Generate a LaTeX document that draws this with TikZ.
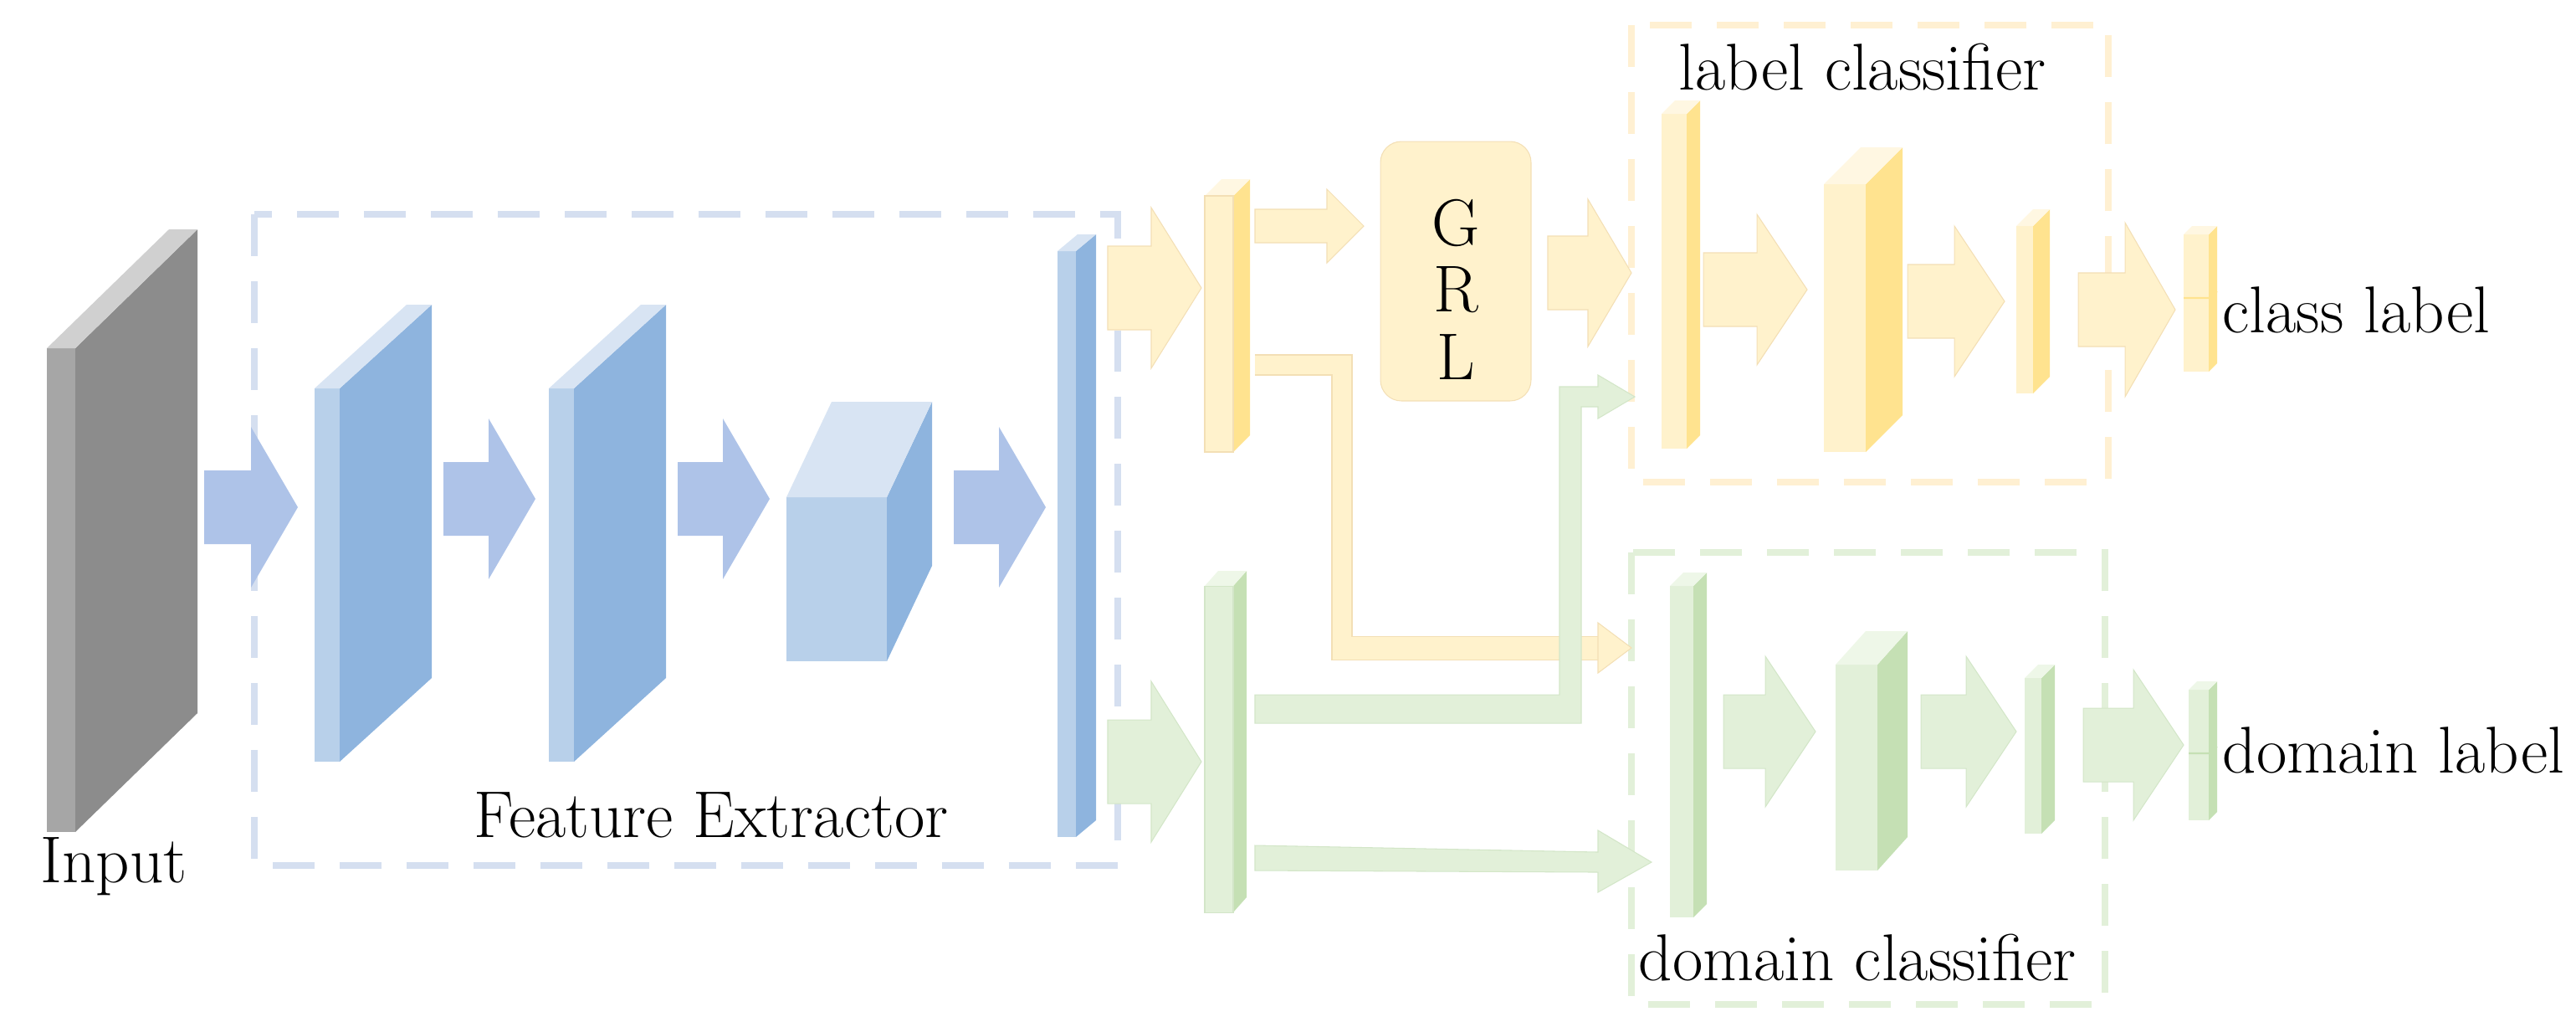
\documentclass[tikz,border=0pt]{standalone}
\usetikzlibrary{shapes.geometric}
\definecolor{gfront}{HTML}{A6A6A6}\definecolor{gside}{HTML}{8C8C8C}\definecolor{gtop}{HTML}{D0D0D0}
\definecolor{bfront}{HTML}{B8D0EA}\definecolor{bside}{HTML}{8EB4DE}\definecolor{btop}{HTML}{D8E4F3}
\definecolor{barrow}{HTML}{AEC3E8}\definecolor{bdash}{HTML}{D5DFF0}
\definecolor{yfront}{HTML}{FFF2CC}\definecolor{yside}{HTML}{FFE38F}\definecolor{ytop}{HTML}{FFF7E2}
\definecolor{yedge}{HTML}{F3DFB5}\definecolor{ydash}{HTML}{FFF0D2}
\definecolor{gnfront}{HTML}{E2F0D9}\definecolor{gnside}{HTML}{C5E0B4}\definecolor{gntop}{HTML}{EEF7E8}
\definecolor{gnedge}{HTML}{D3E6C8}\definecolor{gndash}{HTML}{E2F0D9}
% cuboid: x1 x2 y1 y2 dx dy front side top
\newcommand\cuboid[9]{%
 \fill[#7] (#1,#3) rectangle (#2,#4);
 \fill[#8] (#2,#3) -- ({#2+#5},{#3-#6}) -- ({#2+#5},{#4-#6}) -- (#2,#4) -- cycle;
 \fill[#9] (#1,#3) -- (#2,#3) -- ({#2+#5},{#3-#6}) -- ({#1+#5},{#3-#6}) -- cycle;}
% block arrow: x1 x2 yc shaft-half head-half head-length style
\newcommand\barr[7]{%
 \filldraw[#7] (#1,{#3-#4}) -- ({#2-#6},{#3-#4}) -- ({#2-#6},{#3-#5}) -- (#2,#3)
  -- ({#2-#6},{#3+#5}) -- ({#2-#6},{#3+#4}) -- (#1,{#3+#4}) -- cycle;}
\tikzset{
 blue arr/.style={fill=barrow,draw=none},
 yel arr/.style={fill=yfront,draw=yedge,line width=0.3pt},
 grn arr/.style={fill=gnfront,draw=gnedge,line width=0.3pt},
 dashbox/.style={line width=0.08cm,dash pattern=on 0.5cm off 0.3cm},
 lbl/.style={font=\fontsize{22.5}{26}\selectfont,inner sep=0pt},
}
\begin{document}
\begin{tikzpicture}[x=0.02cm,y=-0.02cm]
\useasboundingbox (0,0) rectangle (1539.5,610);
% dashed group boxes
\draw[dashbox,bdash] (152,128) rectangle (668,517);
\draw[dashbox,ydash] (975,15) rectangle (1260,288);
\draw[dashbox,gndash] (975,330) rectangle (1258,600);
% input
\cuboid{28}{45}{208}{497}{73}{71}{gfront}{gside}{gtop}
\node[lbl,anchor=north] (input) at (68,500) {Input};
% blue pipeline
\barr{122}{178}{303}{22}{48}{28}{blue arr}
\cuboid{188}{203}{232}{455}{55}{50}{bfront}{bside}{btop}
\barr{265}{320}{298}{22}{48}{28}{blue arr}
\cuboid{328}{343}{232}{455}{55}{50}{bfront}{bside}{btop}
\barr{405}{460}{298}{22}{48}{28}{blue arr}
\cuboid{470}{530}{297}{395}{27}{57}{bfront}{bside}{btop}
\barr{570}{625}{303}{22}{48}{28}{blue arr}
\cuboid{632}{643}{150}{500}{12}{10}{bfront}{bside}{btop}
\node[lbl] (fe) at (425,487) {Feature Extractor};
% split arrows
\barr{662}{718}{172}{25}{48}{30}{yel arr}
\barr{662}{718}{455}{25}{48}{30}{grn arr}
% yellow bar
\cuboid{720}{737}{117}{270}{10}{10}{yfront}{yside}{ytop}
\draw[yedge,line width=0.3pt] (720,117) rectangle (737,270);
% green bar
\cuboid{720}{737}{350}{545}{8}{9}{gnfront}{gnside}{gntop}
\draw[gnedge,line width=0.3pt] (720,350) rectangle (737,545);
% small yellow arrow to GRL
\barr{750}{815}{135}{10}{22}{22}{yel arr}
% GRL
\node[draw=yedge,fill=yfront,rounded corners=0.25cm,minimum width=1.8cm,minimum height=3.1cm,line width=0.3pt] (grl) at (870,162) {};
\node[lbl] at (870,133) {G};
\node[lbl] at (870,173) {R};
\node[lbl] at (870,213) {L};
% yellow L connector
\fill[yfront] (750,212) rectangle (808,224);
\fill[yfront] (796,212) rectangle (808,394);
\fill[yfront] (796,380) rectangle (955,394);
\draw[yedge,line width=0.3pt] (750,212) -- (808,212) -- (808,380) -- (955,380);
\draw[yedge,line width=0.3pt] (750,224) -- (796,224) -- (796,394) -- (955,394);
\filldraw[yel arr] (955,372) -- (975,387) -- (955,402) -- cycle;
% green connector to label classifier
\filldraw[grn arr] (750,415) -- (932,415) -- (932,231) -- (955,231) -- (955,224) -- (977,237)
  -- (955,250) -- (955,243) -- (945,243) -- (945,432) -- (750,432) -- cycle;
% lower green arrow
\filldraw[grn arr] (750,505) -- (955,509) -- (955,496) -- (987,515) -- (955,533) -- (955,521) -- (750,520) -- cycle;
% GRL -> label classifier
\barr{925}{975}{163}{22}{44}{26}{yel arr}
% label classifier
\cuboid{993}{1008}{68}{268}{8}{8}{yfront}{yside}{ytop}
\barr{1018}{1080}{173}{22}{45}{30}{yel arr}
\cuboid{1090}{1115}{110}{270}{22}{22}{yfront}{yside}{ytop}
\barr{1140}{1198}{180}{22}{45}{30}{yel arr}
\cuboid{1205}{1215}{135}{235}{10}{10}{yfront}{yside}{ytop}
\barr{1242}{1300}{185}{22}{52}{30}{yel arr}
\cuboid{1305}{1320}{140}{222}{5}{5}{yfront}{yside}{ytop}
\draw[yside,line width=0.6pt] (1305,178) -- (1320,178) -- (1325,174);
\node[lbl] (lc) at (1113,40) {label classifier};
\node[lbl,anchor=west] (cl) at (1328,185) {class label};
% domain classifier
\cuboid{998}{1012}{350}{548}{8}{8}{gnfront}{gnside}{gntop}
\barr{1030}{1085}{437}{22}{45}{30}{grn arr}
\cuboid{1097}{1122}{397}{520}{18}{20}{gnfront}{gnside}{gntop}
\barr{1148}{1205}{437}{22}{45}{30}{grn arr}
\cuboid{1210}{1220}{405}{498}{8}{8}{gnfront}{gnside}{gntop}
\barr{1245}{1305}{445}{22}{45}{30}{grn arr}
\cuboid{1308}{1320}{412}{490}{5}{5}{gnfront}{gnside}{gntop}
\draw[gnside,line width=0.6pt] (1308,450) -- (1320,450) -- (1325,446);
\node[lbl] (dc) at (1110,572) {domain classifier};
\node[lbl,anchor=west] (dl) at (1328,448) {domain label};
\end{tikzpicture}
\end{document}
